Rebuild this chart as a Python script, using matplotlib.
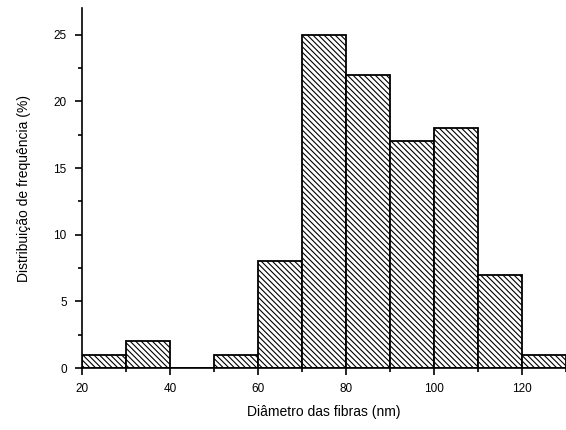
import numpy as np
import matplotlib.pyplot as plt
from matplotlib.ticker import MultipleLocator

plt.rcParams['font.family'] = ['Liberation Sans', 'DejaVu Sans']
plt.rcParams['hatch.linewidth'] = 0.8

bin_left = [20, 30, 40, 50, 60, 70, 80, 90, 100, 110, 120]
freq = [1, 2, 0, 1, 8, 25, 22, 17, 18, 7, 1]

fig = plt.figure(figsize=(5.66, 4.30), dpi=100)
ax = fig.add_axes([0.145, 0.144, 0.855, 0.837])

ax.bar(bin_left, freq, width=10, align='edge', facecolor='white',
       edgecolor='black', linewidth=1.3, hatch='\\\\\\\\\\\\')

ax.set_xlim(20, 130)
ax.set_ylim(0, 27)
ax.xaxis.set_major_locator(MultipleLocator(20))
ax.xaxis.set_minor_locator(MultipleLocator(10))
ax.yaxis.set_major_locator(MultipleLocator(5))
ax.yaxis.set_minor_locator(MultipleLocator(2.5))

for s in ['top', 'right']:
    ax.spines[s].set_visible(False)
for s in ['left', 'bottom']:
    ax.spines[s].set_linewidth(1.2)

ax.tick_params(which='major', direction='out', length=5, width=1.2, labelsize=8.5, pad=6)
ax.tick_params(which='minor', direction='out', length=3, width=1.2)

ax.set_xlabel('Diâmetro das fibras (nm)', fontsize=10, labelpad=7)
ax.set_ylabel('Distribuição de frequência (%)', fontsize=10, labelpad=16)

fig.savefig('out.png', dpi=100)
